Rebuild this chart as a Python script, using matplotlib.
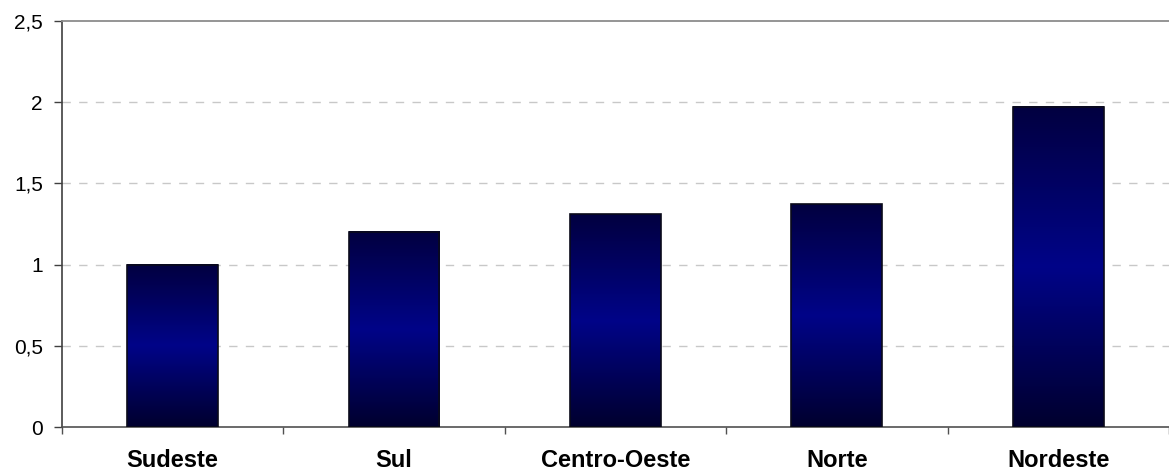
import numpy as np
import matplotlib
matplotlib.use("Agg")
import matplotlib.pyplot as plt
from matplotlib.colors import LinearSegmentedColormap
from matplotlib.ticker import FixedLocator, FuncFormatter

plt.rcParams['font.family'] = ['Liberation Sans', 'DejaVu Sans']

regions = ["Sudeste", "Sul", "Centro-Oeste", "Norte", "Nordeste"]
values = [1.0, 1.2, 1.31, 1.37, 1.97]
y_ticks = [0, 0.5, 1, 1.5, 2, 2.5]

fig = plt.figure(figsize=(11.69, 4.73), dpi=100)
ax = fig.add_axes([0.053, 0.097, 0.947, 0.859])

x = np.arange(len(regions))
bar_width = 0.41
bars = ax.bar(x, values, width=bar_width, color='none',
              edgecolor='#0a0a1a', linewidth=1.2, zorder=4)

# vertical navy-blue gradient: dark at the ends, brighter blue in the middle
cmap = LinearSegmentedColormap.from_list(
    "navy", ["#00002e", "#000488", "#020040"])
grad = np.linspace(0, 1, 256).reshape(-1, 1)
for b in bars:
    x0 = b.get_x()
    ax.imshow(grad, cmap=cmap, origin='lower', aspect='auto',
              extent=[x0, x0 + b.get_width(), 0, b.get_height()],
              interpolation='bilinear', zorder=3)

ax.set_xlim(-0.5, len(regions) - 0.5)
ax.set_ylim(0, 2.5)

# gridlines
for yv in y_ticks[1:-1]:
    ax.axhline(yv, color='#c8c8c8', linestyle=(0, (6, 6)), linewidth=1.0, zorder=1)

# spines
ax.spines['right'].set_visible(False)
ax.spines['top'].set_color('#8c8c8c')
ax.spines['top'].set_linewidth(1.3)
ax.spines['left'].set_color('#404040')
ax.spines['left'].set_linewidth(1.2)
ax.spines['bottom'].set_color('#505050')
ax.spines['bottom'].set_linewidth(1.2)

ax.yaxis.set_major_locator(FixedLocator(y_ticks))
ax.yaxis.set_major_formatter(FuncFormatter(lambda v, p: f"{v:g}".replace('.', ',')))
ax.tick_params(axis='y', direction='out', length=5.8, width=1, color='#404040',
               labelsize=15, pad=8)

ax.set_xticks(x)
ax.set_xticklabels(regions, fontweight='bold', fontsize=17)
ax.set_xticks(np.arange(-0.5, len(regions)), minor=True)
ax.tick_params(axis='x', which='major', length=0, pad=16)
ax.tick_params(axis='x', which='minor', direction='out', length=5.2, width=1, color='#505050')

fig.savefig("out.png", dpi=100)
